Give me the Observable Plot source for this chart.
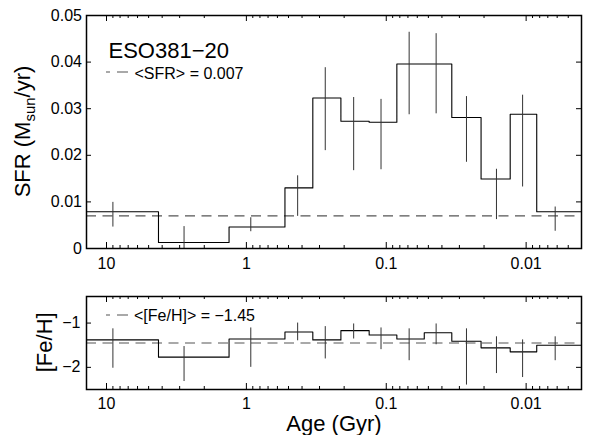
<!DOCTYPE html>
<html><head><meta charset="utf-8">
<script src="https://cdn.jsdelivr.net/npm/d3@7"></script>
<script src="https://cdn.jsdelivr.net/npm/@observablehq/plot@0.6"></script>
<style>
body{margin:0;background:#fff;}
#chart{position:relative;width:590px;height:435px;overflow:hidden;background:#fff;}
#chart svg{position:absolute;left:0;}
</style></head><body><div id="chart"></div>
<script>
// ---- data ----
const binEdges = [14.1, 4.25, 1.33, 0.53, 0.335, 0.211, 0.1325, 0.084, 0.0535, 0.034, 0.021, 0.013, 0.0084, 0.004];
const errAge = [9.0, 2.79, 0.93, 0.43, 0.273, 0.171, 0.109, 0.0686, 0.044, 0.0267, 0.0163, 0.0106, 0.0062];
const sfr   = [0.0079, 0.0013, 0.0046, 0.0130, 0.0323, 0.0273, 0.0271, 0.0396, 0.0396, 0.0281, 0.0149, 0.0288, 0.0079];
const sfrLo = [0.0046, 0.0000, 0.0036, 0.0069, 0.0210, 0.0167, 0.0169, 0.0287, 0.0289, 0.0185, 0.0062, 0.0132, 0.0037];
const sfrHi = [0.0099, 0.0047, 0.0066, 0.0156, 0.0388, 0.0324, 0.0320, 0.0464, 0.0461, 0.0326, 0.0170, 0.0329, 0.0089];
const feh   = [-1.38, -1.77, -1.36, -1.20, -1.38, -1.17, -1.27, -1.36, -1.22, -1.41, -1.56, -1.65, -1.50];
const fehLo = [-2.02, -2.32, -2.00, -1.40, -1.81, -1.36, -1.60, -1.85, -1.49, -2.40, -2.14, -2.23, -1.85];
const fehHi = [-1.13, -1.53, -1.11, -1.00, -1.08, -1.02, -1.11, -1.13, -1.02, -1.13, -1.31, -1.38, -1.31];
const meanSFR = 0.007;
const meanFeH = -1.45;
const galaxy = "ESO381−20";
const xTicks = [10, 1, 0.1, 0.01];
const minorBases = [1, 0.1, 0.01, 0.001];
const minorMult = [2, 3, 4, 5, 6, 7, 8, 9];
const sfrTicks = [0, 0.01, 0.02, 0.03, 0.04, 0.05];
const fehTicks = [-1, -2];
const xDomain = [13.9, 0.00402];

// ---- helpers ----
const FONT = "'Liberation Sans', Arial, Helvetica, sans-serif";
const W = 590, ML = 86, MR = 9;
const PW = W - ML - MR;
const minorX = minorBases.flatMap(b => minorMult.map(m => b * m)).filter(v => v < xDomain[0] && v > xDomain[1]);
const fmtNum = d => d < 0 ? "\u2212" + Math.abs(d) : String(d);
const steps = (vals) => binEdges.map((a, i) => ({age: a, v: vals[Math.min(i, vals.length - 1)]}));
const errRows = (lo, hi) => errAge.map((a, i) => ({a, lo: lo[i], hi: hi[i]}));

function frameTicks(H, yTicks) {
  return [
    Plot.tickX(xTicks, {x: d => d, insetTop: H - 6, stroke: "#000"}),
    Plot.tickX(xTicks, {x: d => d, insetBottom: H - 6, stroke: "#000"}),
    Plot.tickX(minorX, {x: d => d, insetTop: H - 3, stroke: "#000"}),
    Plot.tickX(minorX, {x: d => d, insetBottom: H - 3, stroke: "#000"}),
    Plot.tickY(yTicks, {y: d => d, insetRight: PW - 5, stroke: "#000"}),
    Plot.tickY(yTicks, {y: d => d, insetLeft: PW - 5, stroke: "#000"})
  ];
}

const chart = document.getElementById("chart");

// ---- top panel: SFR ----
const H1top = 15, H1bot = 27, H1 = 275;
const topPlot = Plot.plot({
  width: W, height: H1,
  marginLeft: ML, marginRight: MR, marginTop: H1top, marginBottom: H1bot,
  style: {fontFamily: FONT, fontSize: "16px", background: "transparent", color: "#000"},
  x: {type: "log", domain: xDomain},
  y: {domain: [0, 0.05]},
  marks: [
    Plot.ruleY([meanSFR], {stroke: "#555", strokeDasharray: "10,6.5", strokeWidth: 1.2}),
    Plot.line(steps(sfr), {x: "age", y: "v", curve: "step-after", stroke: "#000", strokeWidth: 1.1, clip: true}),
    Plot.ruleX(errRows(sfrLo, sfrHi), {x: "a", y1: "lo", y2: "hi", stroke: "#333", strokeWidth: 1}),
    ...frameTicks(H1 - H1top - H1bot, sfrTicks),
    Plot.frame({stroke: "#000", strokeWidth: 1.5}),
    Plot.axisX(xTicks, {tickSize: 0, tickPadding: 9, tickFormat: fmtNum, label: null}),
    Plot.axisY(sfrTicks, {tickSize: 0, tickPadding: 4.5, tickFormat: fmtNum, label: null}),
    Plot.text([galaxy], {text: d => d, frameAnchor: "top-left", dx: 22, dy: 57.5 - H1top, textAnchor: "start", lineAnchor: "bottom", fontSize: 22}),
    Plot.text(["<SFR> = " + meanSFR], {text: d => d, frameAnchor: "top-left", dx: 48, dy: 78 - H1top, textAnchor: "start", lineAnchor: "bottom", fontSize: 16})
  ]
});
topPlot.style.top = "0px";
chart.appendChild(topPlot);

// ---- bottom panel: [Fe/H] ----
const T2 = 280, H2top = 16, H2bot = 46, H2 = 155;
const bottomPlot = Plot.plot({
  width: W, height: H2,
  marginLeft: ML, marginRight: MR, marginTop: H2top, marginBottom: H2bot,
  style: {fontFamily: FONT, fontSize: "16px", background: "transparent", color: "#000"},
  x: {type: "log", domain: xDomain},
  y: {domain: [-2.5, -0.4]},
  marks: [
    Plot.ruleY([meanFeH], {stroke: "#555", strokeDasharray: "10,6.5", strokeWidth: 1.2}),
    Plot.line(steps(feh), {x: "age", y: "v", curve: "step-after", stroke: "#000", strokeWidth: 1.1, clip: true}),
    Plot.ruleX(errRows(fehLo, fehHi), {x: "a", y1: "lo", y2: "hi", stroke: "#333", strokeWidth: 1}),
    ...frameTicks(H2 - H2top - H2bot, fehTicks),
    Plot.frame({stroke: "#000", strokeWidth: 1.5}),
    Plot.axisX(xTicks, {tickSize: 0, tickPadding: 8, tickFormat: fmtNum, label: null}),
    Plot.axisY(fehTicks, {tickSize: 0, tickPadding: 6, tickFormat: fmtNum, label: null}),
    Plot.text(["<[Fe/H]> = " + fmtNum(meanFeH)], {text: d => d, frameAnchor: "top-left", dx: 47.5, dy: 320 - T2 - H2top, textAnchor: "start", lineAnchor: "bottom", fontSize: 16}),
    Plot.text(["Age (Gyr)"], {text: d => d, frameAnchor: "bottom", dy: 430.5 - (T2 + H2 - H2bot), textAnchor: "middle", lineAnchor: "bottom", fontSize: 22})
  ]
});
bottomPlot.style.top = T2 + "px";
chart.appendChild(bottomPlot);

// ---- legend swatches and y labels ----
function legendDash(svg, y) {
  d3.select(svg).append("line")
    .attr("x1", 106).attr("x2", 128).attr("y1", y).attr("y2", y)
    .attr("stroke", "#555").attr("stroke-width", 1.2)
    .attr("stroke-dasharray", "4,7,11,100");
}
legendDash(topPlot, 72);
legendDash(bottomPlot, 315 - T2);

const yl1 = d3.select(topPlot).append("text")
  .attr("transform", "translate(30,131.5) rotate(-90)")
  .attr("text-anchor", "middle")
  .attr("font-family", FONT).attr("font-size", 22).attr("fill", "#000");
yl1.append("tspan").text("SFR (M");
yl1.append("tspan").attr("font-size", 15).attr("dy", 5).text("sun");
yl1.append("tspan").attr("dy", -5).text("/yr)");

d3.select(bottomPlot).append("text")
  .attr("transform", `translate(52,${342.3 - T2}) rotate(-90)`)
  .attr("text-anchor", "middle")
  .attr("font-family", FONT).attr("font-size", 22).attr("fill", "#000")
  .text("[Fe/H]");
</script></body></html>
